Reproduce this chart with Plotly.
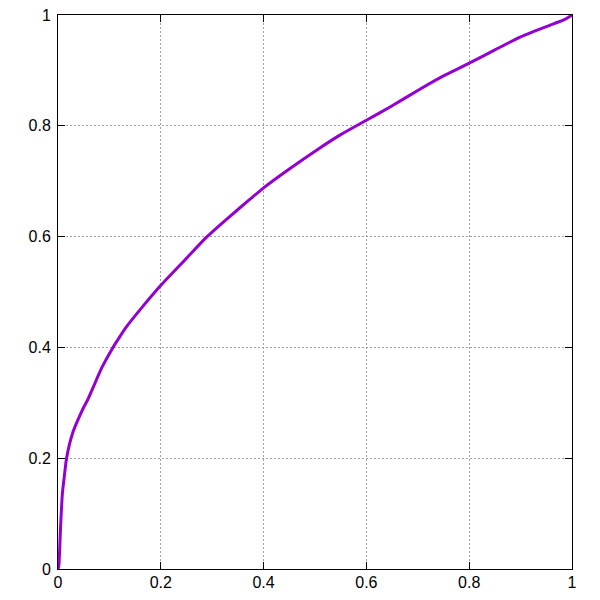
import plotly.graph_objects as go

fpr = [0, 0.001, 0.002, 0.005, 0.0086, 0.012, 0.016, 0.022, 0.029, 0.035, 0.042, 0.05, 0.058,
       0.068, 0.085, 0.107, 0.12, 0.133, 0.165, 0.201, 0.25, 0.289, 0.33, 0.373, 0.4, 0.45,
       0.503, 0.55, 0.6, 0.646, 0.704, 0.75, 0.8, 0.85, 0.899, 0.95, 0.986, 1.0]
tpr = [0, 0.003, 0.010, 0.076, 0.137, 0.165, 0.196, 0.224, 0.247, 0.261, 0.276, 0.292, 0.306,
       0.327, 0.363, 0.4, 0.419, 0.437, 0.474, 0.513, 0.561, 0.599, 0.633, 0.667, 0.688, 0.722,
       0.756, 0.784, 0.810, 0.834, 0.866, 0.89, 0.913, 0.937, 0.960, 0.979, 0.992, 1.0]

tick_vals = [0, 0.2, 0.4, 0.6, 0.8, 1]
tick_text = ["0", "0.2", "0.4", "0.6", "0.8", "1"]

fig = go.Figure()
fig.add_trace(go.Scatter(x=fpr, y=tpr, mode="lines",
                         line=dict(color="#9400D3", width=3, shape="spline", smoothing=0.6),
                         showlegend=False))

axis_common = dict(
    range=[0, 1], tickvals=tick_vals, ticktext=tick_text, automargin=False,
    showline=True, linecolor="black", linewidth=1, mirror="allticks",
    ticks="inside", ticklen=7, tickcolor="black", tickwidth=1,
    showgrid=True, gridcolor="#a0a0a0", gridwidth=1, griddash="2px,2px",
    zeroline=False, ticklabeloverflow="allow",
    tickfont=dict(family="Liberation Sans, Arial", size=16, color="black"),
)
fig.update_xaxes(**axis_common, ticklabelstandoff=-1)
fig.update_yaxes(**axis_common, ticklabelstandoff=3)
fig.update_layout(
    width=600, height=600,
    margin=dict(l=50, r=36, t=7, b=39),
    plot_bgcolor="white", paper_bgcolor="white",
)
fig.write_html("out.html")
